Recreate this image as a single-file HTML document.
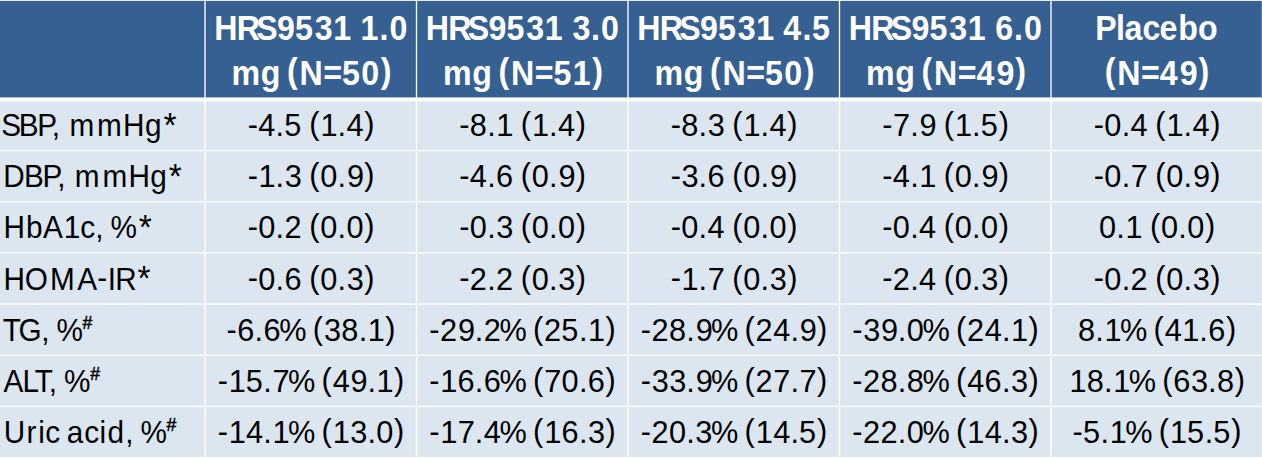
<!DOCTYPE html>
<html lang="en"><head><meta charset="utf-8"><title>HRS9531 table</title>
<style>html,body{margin:0;padding:0;background:#fff}body{width:1262px;height:458px;overflow:hidden}svg{display:block}
text{font-family:"Liberation Sans",sans-serif;font-size:32px;fill:#000}.h{font-weight:bold;fill:#fff;font-size:35px}.s{font-size:19px;stroke:#000;stroke-width:.5px}.a{font-size:36px}</style></head><body>
<svg width="1262" height="458" viewBox="0 0 1262 458">
<rect x="0" y="0" width="1262" height="100" fill="#366092"/>
<rect x="0" y="99" width="1262" height="359" fill="#dce6f1"/>
<g fill="#fff">
<rect x="0" y="-0.5" width="1262" height="1.4"/>
<rect x="0" y="97.42" width="1262" height="4"/>
<rect x="0" y="149.93" width="1262" height="1.33"/>
<rect x="0" y="201.09" width="1262" height="1.33"/>
<rect x="0" y="252.27" width="1262" height="1.33"/>
<rect x="0" y="303.44" width="1262" height="1.33"/>
<rect x="0" y="354.61" width="1262" height="1.33"/>
<rect x="0" y="405.77" width="1262" height="1.33"/>
<rect x="0" y="456.94" width="1262" height="1.33"/>
<rect x="204.34" y="0" width="1.33" height="458"/>
<rect x="415.83" y="0" width="1.33" height="458"/>
<rect x="627.34" y="0" width="1.33" height="458"/>
<rect x="838.84" y="0" width="1.33" height="458"/>
<rect x="1050.34" y="0" width="1.33" height="458"/>
<rect x="1261.84" y="0" width="1.33" height="458"/>
</g>
<text id="h0a" class="h" transform="scale(0.9200 1)" x="232.98 257.31 278.67 301.22 320.57 342.04 362.15 381.89 391.85 412.45 423.27" y="40.4">HRS9531 1.0</text>
<text id="h0b" class="h" transform="scale(0.9200 1)" x="251.76 283.32 302.65 312 325.43 351.28 371.65 392.72 413.77" y="84.8 84.8 84.8 82.83 84.8 84.58 84.8 84.8 82.83">mg (N=50)</text>
<text id="h1a" class="h" transform="scale(0.9200 1)" x="462.87 487.21 508.56 531.11 550.46 571.93 592.04 611.78 622.18 642.34 653.16" y="40.4">HRS9531 3.0</text>
<text id="h1b" class="h" transform="scale(0.9200 1)" x="481.65 513.21 532.54 541.89 555.33 581.18 601.54 622.57 643.66" y="84.8 84.8 84.8 82.83 84.8 84.58 84.8 84.8 82.83">mg (N=51)</text>
<text id="h2a" class="h" transform="scale(0.9200 1)" x="692.76 717.1 738.45 761 780.35 801.82 821.93 841.67 851.32 872.23 882.53" y="40.4">HRS9531 4.5</text>
<text id="h2b" class="h" transform="scale(0.9200 1)" x="711.54 743.1 762.44 771.79 785.22 811.07 831.43 852.5 873.55" y="84.8 84.8 84.8 82.83 84.8 84.58 84.8 84.8 82.83">mg (N=50)</text>
<text id="h3a" class="h" transform="scale(0.9200 1)" x="922.65 946.99 968.34 990.9 1010.24 1031.71 1051.82 1071.56 1081.75 1102.12 1112.94" y="40.4">HRS9531 6.0</text>
<text id="h3b" class="h" transform="scale(0.9200 1)" x="941.43 972.99 992.33 1001.68 1015.11 1040.96 1061.49 1083.08 1103.44" y="84.8 84.8 84.8 82.83 84.8 84.58 84.8 84.8 82.83">mg (N=49)</text>
<text id="h4a" class="h" transform="scale(0.9200 1)" x="1190.53 1213.09 1222.22 1241.83 1260.26 1280.64 1302.25" y="40.4">Placebo</text>
<text id="h4b" class="h" transform="scale(0.9200 1)" x="1200.9 1214.33 1240.16 1260.71 1282.29 1302.66" y="82.83 84.8 84.58 84.8 84.8 82.83">(N=49)</text>
<text id="l0" transform="scale(0.9300 1)" x="1.36 20.15 40.06 55.66 64.45 74.7 104.34 132.35 155.9" y="136.1">SBP, mmHg<tspan class="a" x="175.69" y="136.9">*</tspan></text>
<text id="c0_0" transform="scale(0.9600 1)" x="258.02 269.14 287.12 296.11 313.95 322.14 333.87 351.64 360.95 379.45" y="134.85 136.1 136.1 136.1 136.1 134.16 136.1 136.1 136.1 134.16">-4.5 (1.4)</text>
<text id="c0_1" transform="scale(0.9600 1)" x="478.33 489.34 507.44 516.95 534.27 542.45 554.19 571.95 581.27 599.76" y="134.85 136.1 136.1 136.1 136.1 134.16 136.1 136.1 136.1 134.16">-8.1 (1.4)</text>
<text id="c0_2" transform="scale(0.9600 1)" x="698.64 709.66 727.75 737.19 754.58 762.76 774.5 792.27 801.58 820.07" y="134.85 136.1 136.1 136.1 136.1 134.16 136.1 136.1 136.1 134.16">-8.3 (1.4)</text>
<text id="c0_3" transform="scale(0.9600 1)" x="918.95 930.23 948.06 957.81 974.89 983.08 994.81 1012.58 1021.57 1040.38" y="134.85 136.1 136.1 136.1 136.1 134.16 136.1 136.1 136.1 134.16">-7.9 (1.5)</text>
<text id="c0_4" transform="scale(0.9600 1)" x="1139.27 1150.28 1168.37 1177.69 1195.2 1203.39 1215.12 1232.89 1242.2 1260.7" y="134.85 136.1 136.1 136.1 136.1 134.16 136.1 136.1 136.1 134.16">-0.4 (1.4)</text>
<text id="l1" transform="scale(0.9300 1)" x="3.61 25.93 45.84 61.44 70.23 80.48 110.12 138.13 161.68" y="187.27">DBP, mmHg<tspan class="a" x="181.47" y="188.07">*</tspan></text>
<text id="c1_0" transform="scale(0.9600 1)" x="258.02 269.34 287.12 296.57 313.95 322.14 333.56 351.64 361.39 379.45" y="186.02 187.27 187.27 187.27 187.27 185.33 187.27 187.27 187.27 185.33">-1.3 (0.9)</text>
<text id="c1_1" transform="scale(0.9600 1)" x="478.33 489.45 507.44 516.71 534.27 542.45 553.88 571.95 581.7 599.76" y="186.02 187.27 187.27 187.27 187.27 185.33 187.27 187.27 187.27 185.33">-4.6 (0.9)</text>
<text id="c1_2" transform="scale(0.9600 1)" x="698.64 709.9 727.75 737.03 754.58 762.76 774.19 792.27 802.01 820.07" y="186.02 187.27 187.27 187.27 187.27 185.33 187.27 187.27 187.27 185.33">-3.6 (0.9)</text>
<text id="c1_3" transform="scale(0.9600 1)" x="918.95 930.08 948.06 957.57 974.89 983.08 994.5 1012.58 1022.32 1040.38" y="186.02 187.27 187.27 187.27 187.27 185.33 187.27 187.27 187.27 185.33">-4.1 (0.9)</text>
<text id="c1_4" transform="scale(0.9600 1)" x="1139.27 1150.28 1168.37 1177.84 1195.2 1203.39 1214.81 1232.89 1242.64 1260.7" y="186.02 187.27 187.27 187.27 187.27 185.33 187.27 187.27 187.27 185.33">-0.7 (0.9)</text>
<text id="l2" transform="scale(0.9300 1)" x="3.65 27.88 46.32 68.55 86.37 102.44 111.22 118.88" y="238.44">HbA1c, %<tspan class="a" x="149.14" y="239.24">*</tspan></text>
<text id="c2_0" transform="scale(0.9600 1)" x="258.02 269.03 287.12 296.37 313.95 322.14 333.56 351.64 360.84 379.45" y="237.19 238.44 238.44 238.44 238.44 236.5 238.44 238.44 238.44 236.5">-0.2 (0.0)</text>
<text id="c2_1" transform="scale(0.9600 1)" x="478.33 489.34 507.44 516.88 534.27 542.45 553.88 571.95 581.16 599.76" y="237.19 238.44 238.44 238.44 238.44 236.5 238.44 238.44 238.44 236.5">-0.3 (0.0)</text>
<text id="c2_2" transform="scale(0.9600 1)" x="698.64 709.66 727.75 737.06 754.58 762.76 774.19 792.27 801.47 820.07" y="237.19 238.44 238.44 238.44 238.44 236.5 238.44 238.44 238.44 236.5">-0.4 (0.0)</text>
<text id="c2_3" transform="scale(0.9600 1)" x="918.95 929.97 948.06 957.37 974.89 983.08 994.5 1012.58 1021.78 1040.38" y="237.19 238.44 238.44 238.44 238.44 236.5 238.44 238.44 238.44 236.5">-0.4 (0.0)</text>
<text id="c2_4" transform="scale(0.9600 1)" x="1144.8 1162.87 1172.38 1189.7 1197.89 1209.31 1227.39 1236.59 1255.19" y="238.44 238.44 238.44 238.44 236.5 238.44 238.44 238.44 236.5">0.1 (0.0)</text>
<text id="l3" transform="scale(0.9300 1)" x="3.65 26.6 53.85 83.11 104.59 115.81 123.95" y="289.61 289.61 289.61 289.61 288.36 289.61 289.61">HOMA-IR<tspan class="a" x="147.85" y="290.41">*</tspan></text>
<text id="c3_0" transform="scale(0.9600 1)" x="258.02 269.03 287.12 296.4 313.95 322.14 333.56 351.64 361.09 379.45" y="288.36 289.61 289.61 289.61 289.61 287.67 289.61 289.61 289.61 287.67">-0.6 (0.3)</text>
<text id="c3_1" transform="scale(0.9600 1)" x="478.33 489.39 507.44 516.68 534.27 542.45 553.88 571.95 581.4 599.76" y="288.36 289.61 289.61 289.61 289.61 287.67 289.61 289.61 289.61 287.67">-2.2 (0.3)</text>
<text id="c3_2" transform="scale(0.9600 1)" x="698.64 709.96 727.75 737.22 754.58 762.76 774.19 792.27 801.71 820.07" y="288.36 289.61 289.61 289.61 289.61 287.67 289.61 289.61 289.61 287.67">-1.7 (0.3)</text>
<text id="c3_3" transform="scale(0.9600 1)" x="918.95 930.01 948.06 957.37 974.89 983.08 994.5 1012.58 1022.02 1040.38" y="288.36 289.61 289.61 289.61 289.61 287.67 289.61 289.61 289.61 287.67">-2.4 (0.3)</text>
<text id="c3_4" transform="scale(0.9600 1)" x="1139.27 1150.28 1168.37 1177.62 1195.2 1203.39 1214.81 1232.89 1242.34 1260.7" y="288.36 289.61 289.61 289.61 289.61 287.67 289.61 289.61 289.61 287.67">-0.2 (0.3)</text>
<text id="l4" transform="scale(0.9300 1)" x="2.93 20.03 44.29 53.07 60.74" y="340.78">TG, %<tspan class="s" x="88.73" y="329.06">#</tspan></text>
<text id="c4_0" transform="scale(0.9600 1)" x="236.07 247.16 265.18 274.45 291 317.7 325.89 337.54 355.51 373.59 383.12 401.41" y="339.53 340.78 340.78 340.78 340.78 340.78 338.84 340.78 340.78 340.78 340.78 338.84">-6.6% (38.1)</text>
<text id="c4_1" transform="scale(0.9600 1)" x="447.27 458.33 477.06 494.59 503.84 520.42 547.12 555.31 566.76 584.72 603.01 612.54 630.83" y="339.53 340.78 340.78 340.78 340.78 340.78 340.78 338.84 340.78 340.78 340.78 340.78 338.84">-29.2% (25.1)</text>
<text id="c4_2" transform="scale(0.9600 1)" x="667.59 678.64 696.83 714.91 724.65 740.73 767.44 775.62 787.08 805.35 823.32 833.08 851.14" y="339.53 340.78 340.78 340.78 340.78 340.78 340.78 338.84 340.78 340.78 340.78 340.78 338.84">-28.9% (24.9)</text>
<text id="c4_3" transform="scale(0.9600 1)" x="887.9 899.16 917.69 935.22 944.42 961.04 987.75 995.93 1007.39 1025.67 1043.63 1053.16 1071.45" y="339.53 340.78 340.78 340.78 340.78 340.78 340.78 338.84 340.78 340.78 340.78 340.78 338.84">-39.0% (24.1)</text>
<text id="c4_4" transform="scale(0.9600 1)" x="1122.85 1140.92 1150.43 1166.75 1193.45 1201.64 1213.16 1231.57 1249.34 1258.63 1277.16" y="340.78 340.78 340.78 340.78 340.78 338.84 340.78 340.78 340.78 340.78 338.84">8.1% (41.6)</text>
<text id="l5" transform="scale(0.9300 1)" x="3.73 24.17 37.27 52.49 61.27 68.94" y="391.95">ALT, %<tspan class="s" x="96.95" y="380.23">#</tspan></text>
<text id="c5_0" transform="scale(0.9600 1)" x="226.96 238.28 255.99 274.28 283.75 300.11 326.81 335 346.52 365.16 382.7 392.22 410.52" y="390.7 391.95 391.95 391.95 391.95 391.95 391.95 390.01 391.95 391.95 391.95 391.95 390.01">-15.7% (49.1)</text>
<text id="c5_1" transform="scale(0.9600 1)" x="447.27 458.6 476.59 494.59 503.87 520.42 547.12 555.31 566.98 584.93 603.01 612.3 630.83" y="390.7 391.95 391.95 391.95 391.95 391.95 391.95 390.01 391.95 391.95 391.95 391.95 390.01">-16.6% (70.6)</text>
<text id="c5_2" transform="scale(0.9600 1)" x="667.59 678.84 697.07 714.91 724.65 740.73 767.44 775.62 787.08 805.51 823.32 832.8 851.14" y="390.7 391.95 391.95 391.95 391.95 391.95 391.95 390.01 391.95 391.95 391.95 391.95 390.01">-33.9% (27.7)</text>
<text id="c5_3" transform="scale(0.9600 1)" x="887.9 898.96 917.14 935.22 944.42 961.04 987.75 995.93 1007.45 1025.63 1043.63 1053.09 1071.45" y="390.7 391.95 391.95 391.95 391.95 391.95 391.95 390.01 391.95 391.95 391.95 391.95 390.01">-28.8% (46.3)</text>
<text id="c5_4" transform="scale(0.9600 1)" x="1114.05 1131.95 1150.03 1159.54 1175.85 1202.56 1210.74 1222.23 1240.61 1258.45 1267.66 1286.27" y="391.95 391.95 391.95 391.95 391.95 391.95 390.01 391.95 391.95 391.95 391.95 390.01">18.1% (63.8)</text>
<text id="l6" transform="scale(0.9300 1)" x="4 28.61 41.07 48.75 64.33 71.89 90.58 107.11 115.52 134.66 143.44 151.11" y="443.12">Uric acid, %<tspan class="s" x="179.1" y="431.4">#</tspan></text>
<text id="c6_0" transform="scale(0.9600 1)" x="226.96 238.28 256.32 274.28 283.79 300.11 326.81 335 346.71 364.86 382.7 391.91 410.52" y="441.87 443.12 443.12 443.12 443.12 443.12 443.12 441.18 443.12 443.12 443.12 443.12 441.18">-14.1% (13.0)</text>
<text id="c6_1" transform="scale(0.9600 1)" x="447.27 458.6 476.78 494.59 503.91 520.42 547.12 555.31 567.03 585.01 603.01 612.47 630.83" y="441.87 443.12 443.12 443.12 443.12 443.12 443.12 441.18 443.12 443.12 443.12 443.12 441.18">-17.4% (16.3)</text>
<text id="c6_2" transform="scale(0.9600 1)" x="667.59 678.64 696.83 714.91 724.35 740.73 767.44 775.62 787.34 805.35 823.32 832.33 851.14" y="441.87 443.12 443.12 443.12 443.12 443.12 443.12 441.18 443.12 443.12 443.12 443.12 441.18">-20.3% (14.5)</text>
<text id="c6_3" transform="scale(0.9600 1)" x="887.9 898.96 917.19 935.22 944.42 961.04 987.75 995.93 1007.65 1025.67 1043.63 1053.09 1071.45" y="441.87 443.12 443.12 443.12 443.12 443.12 443.12 441.18 443.12 443.12 443.12 443.12 441.18">-22.0% (14.3)</text>
<text id="c6_4" transform="scale(0.9600 1)" x="1117.32 1128.12 1146.43 1155.94 1172.25 1198.95 1207.14 1218.86 1236.55 1254.84 1263.84 1282.66" y="441.87 443.12 443.12 443.12 443.12 443.12 441.18 443.12 443.12 443.12 443.12 441.18">-5.1% (15.5)</text>
</svg></body></html>
